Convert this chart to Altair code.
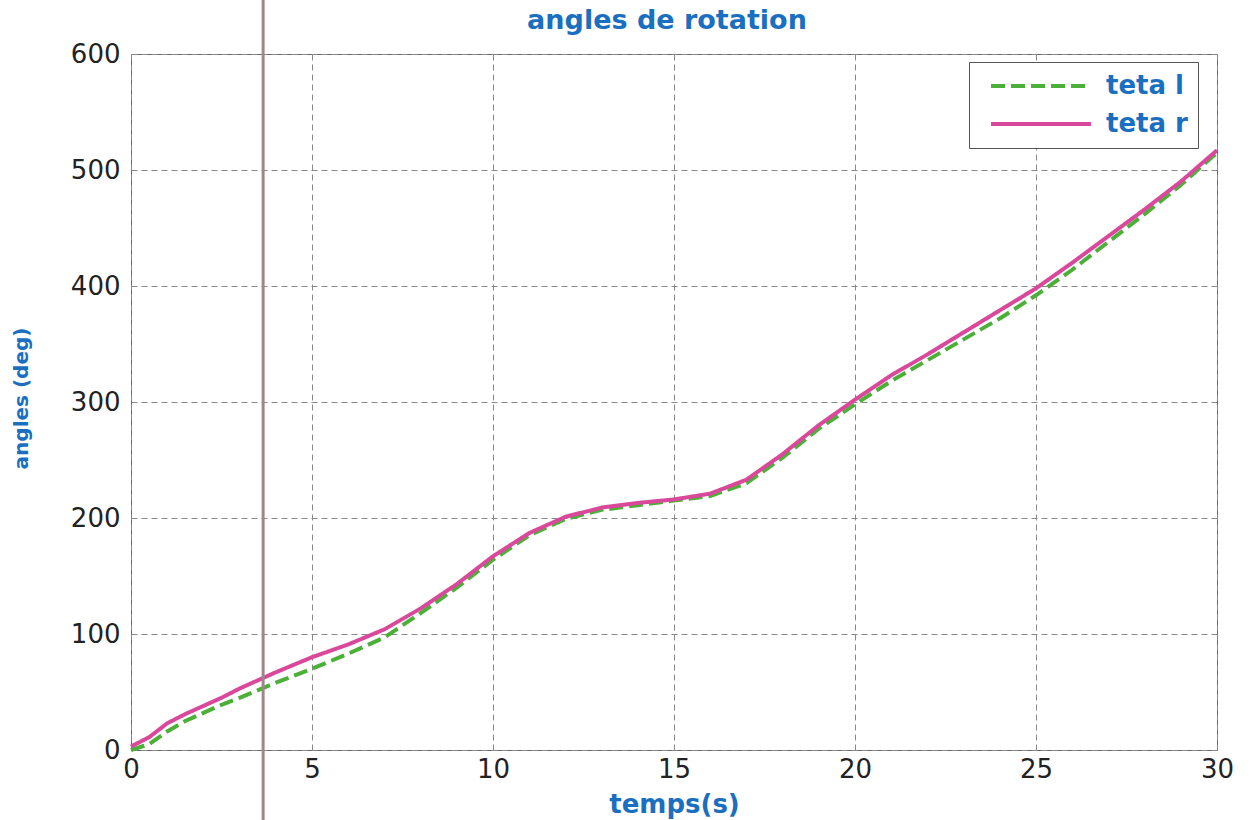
import altair as alt
import pandas as pd

# time (s)
t = [0, 0.5, 1, 1.5, 2, 2.5, 3, 4, 5, 6, 7, 8, 9, 10, 11, 12, 13, 14, 15,
     16, 17, 18, 19, 20, 21, 22, 23, 24, 25, 26, 27, 28, 29, 30]
# teta r (deg)
teta_r = [3, 11, 23, 31, 38, 45, 53, 67, 80, 91, 104, 122, 143, 167, 187, 201, 209, 213, 216,
          221, 233, 255, 280, 302, 323, 341, 360, 379, 398, 420, 443, 466, 490, 517]
# teta l (deg)
teta_l = [0, 5, 16, 25, 32, 39, 45, 58, 70, 83, 97, 118, 140, 164, 185, 199, 207, 211, 215,
          219, 230, 252, 277, 298, 318, 336, 354, 372, 392, 414, 438, 462, 487, 515]

series = ["teta l", "teta r"]
colors = ["#4caf38", "#d9489a"]
dashes = [[14, 6], [1, 0]]
x_ticks = [0, 5, 10, 15, 20, 25, 30]
y_ticks = [0, 100, 200, 300, 400, 500, 600]
scan_line_x = [3.65]  # vertical scan mark seen on the page

rows = []
for name, vals in [("teta l", teta_l), ("teta r", teta_r)]:
    for i, (tt, v) in enumerate(zip(t, vals)):
        rows.append({"t": tt, "angle": v, "serie": name, "order": i})
df = pd.DataFrame(rows)

W, H = 1086, 696
BLUE = "#1b6fc0"
FONT = "DejaVu Sans"

x_scale = alt.Scale(domain=[0, 30], nice=False, zero=False)
y_scale = alt.Scale(domain=[0, 600], nice=False)

lines = alt.Chart(df).mark_line(strokeWidth=4).encode(
    x=alt.X("t:Q", scale=x_scale,
            axis=alt.Axis(values=x_ticks, title="temps(s)", titleY=62,
                          titleBaseline="alphabetic", labelPadding=6,
                          labelFlush=False)),
    y=alt.Y("angle:Q", scale=y_scale,
            axis=alt.Axis(values=y_ticks, title="angles (deg)", titleX=-104,
                          titleY=344, titleBaseline="alphabetic", labelPadding=11,
                          titleFontSize=20, labelFlush=False)),
    color=alt.Color("serie:N", scale=alt.Scale(domain=series, range=colors),
                    legend=alt.Legend(title=None)),
    strokeDash=alt.StrokeDash("serie:N", scale=alt.Scale(domain=series, range=dashes),
                              legend=alt.Legend(title=None)),
    order="order:Q",
)

scan = alt.Chart(pd.DataFrame({"x": scan_line_x})).mark_rule(
    color="#9c8888", strokeWidth=3
).encode(
    x=alt.X("x:Q", scale=x_scale),
    y=alt.value(-54),
    y2=alt.value(H + 70),
)

chart = alt.layer(lines, scan).properties(
    width=W, height=H,
    title=alt.TitleParams("angles de rotation", color=BLUE, fontSize=27, font=FONT,
                          fontWeight="bold", baseline="alphabetic", offset=-57, dx=-7),
    autosize=alt.AutoSizeParams(type="none"),
    padding={"left": 131, "top": 54, "right": 35, "bottom": 70},
).configure_view(
    stroke="#666", strokeWidth=1
).configure_axis(
    grid=True, gridColor="#888", gridDash=[6, 4], gridWidth=1, gridOpacity=1,
    domain=False, ticks=False,
    labelFont=FONT, labelFontSize=26, labelColor="#222",
    titleFont=FONT, titleFontSize=26, titleColor=BLUE, titleFontWeight="bold",
).configure_legend(
    orient="none", legendX=838, legendY=8,
    fillColor="white", strokeColor="#555", strokeWidth=1, cornerRadius=0,
    padding=10, symbolType="stroke", symbolSize=10000, symbolStrokeWidth=4,
    symbolOffset=10, clipHeight=28, rowPadding=10, labelOffset=13,
    labelFont=FONT, labelFontSize=26, labelFontWeight="bold", labelColor=BLUE,
)

chart.save("out.html", embed_options={"renderer": "svg", "actions": False})
